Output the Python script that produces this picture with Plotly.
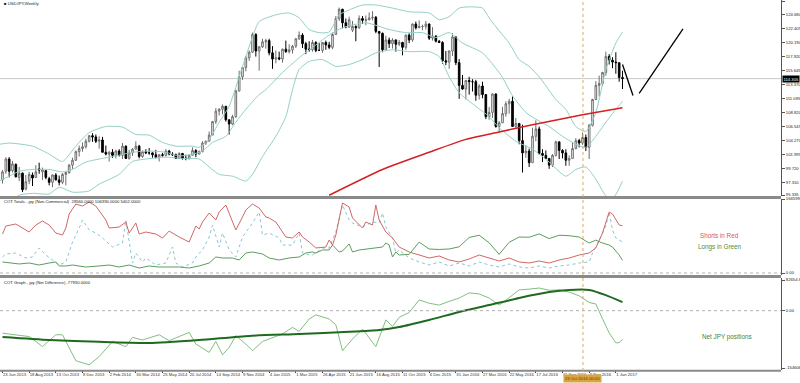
import plotly.graph_objects as go
from plotly.subplots import make_subplots
import pandas as pd

# ---------------- data ----------------
BASE = pd.Timestamp("2013-06-23")   # first weekly bar

def wdate(w):
    return BASE + pd.Timedelta(days=7 * w)

# weekly USDJPY candles (23 Jun 2013 ... 15 Jan 2017)
opens = [97.8, 99.2, 101.2, 99.3, 100.3, 98.2, 98.9, 96.3, 97.6, 98.6, 98.2, 99.6, 99.1, 99.3, 98.0, 97.4, 98.6, 97.8, 97.4, 98.7,
         99.0, 100.2, 101.0, 102.4, 102.9, 103.2, 104.1, 105.0,
         104.8, 104.1, 104.3, 102.3, 102.0, 102.3, 101.8, 102.5, 101.8, 103.3, 101.3, 102.2, 102.8, 103.3, 101.6, 102.4, 102.2, 102.2,
         101.9, 101.5, 101.9, 101.8, 102.5, 102.0, 101.9, 101.3, 102.1, 101.3, 101.3, 101.8, 102.6, 102.0, 102.4, 103.8, 104.1, 105.1,
         107.3, 109.0, 109.3, 109.8, 107.6, 106.9, 108.1, 112.3, 114.6, 116.1, 117.7, 118.6, 121.5, 118.8, 119.5, 120.3,
         120.5, 118.5, 117.5, 117.7, 117.5, 119.1, 118.7, 119.0, 119.6, 120.8, 121.4, 120.0, 119.1, 119.0, 120.2, 118.9, 118.9, 120.2,
         119.8, 119.4, 121.5, 124.1, 125.6, 123.4, 122.7, 122.2, 122.8, 122.6, 124.1, 123.8, 123.9, 124.2, 124.3, 122.0, 121.7, 119.0,
         120.6, 120.0, 120.6, 119.9, 120.2, 119.4, 121.4, 120.6, 123.2, 122.6, 122.8, 122.8, 123.2, 120.9, 121.2, 120.4,
         120.2, 117.2, 117.0, 118.8, 121.1, 116.9, 113.2, 112.6, 114.0, 113.8, 113.8, 111.6, 113.1, 111.7, 108.1, 108.8, 111.8, 106.5,
         107.1, 108.6, 110.2, 110.6, 106.5, 107.0, 104.2, 102.2, 102.5, 100.6, 104.9, 106.1, 102.1, 101.8, 101.3, 100.2, 101.8, 104.0,
         102.6, 102.2, 101.0, 101.3, 102.9, 104.2, 103.8, 104.7, 103.1, 106.7, 110.9, 113.2, 113.5, 115.3, 117.9, 117.3,
         117.0, 116.9, 114.5]
highs = [99.4, 101.5, 101.5, 100.9, 100.5, 99.9, 99.0, 98.6, 99.1, 99.0, 100.2, 100.6, 99.8, 99.4, 98.3, 98.7, 98.9, 98.5, 98.9, 99.1,
         100.4, 101.4, 102.6, 103.4, 103.9, 104.5, 105.1, 105.4,
         105.2, 104.9, 104.8, 103.4, 102.5, 102.8, 102.7, 102.8, 103.8, 103.4, 102.7, 103.0, 104.1, 103.5, 102.6, 102.8, 103.0, 102.3,
         102.7, 102.0, 102.2, 102.8, 102.7, 102.3, 102.1, 102.3, 102.2, 101.9, 101.9, 103.1, 102.8, 102.6, 104.1, 104.2, 105.7, 107.4,
         109.5, 109.5, 110.1, 109.8, 107.6, 108.4, 112.5, 115.6, 116.1, 118.0, 118.9, 121.8, 121.7, 119.6, 120.8, 120.8,
         120.8, 119.6, 118.9, 118.7, 119.2, 120.5, 119.9, 119.8, 120.9, 122.0, 121.7, 120.3, 120.4, 120.6, 120.4, 120.1, 119.9, 120.5,
         120.3, 121.8, 124.5, 125.9, 125.7, 124.1, 124.4, 123.7, 123.0, 124.6, 124.5, 124.6, 125.1, 125.3, 124.5, 122.0, 121.8, 121.3,
         121.0, 120.9, 120.7, 120.6, 120.3, 121.5, 121.7, 123.3, 123.6, 123.8, 123.1, 123.7, 123.3, 122.7, 121.4, 120.6,
         120.4, 118.8, 118.9, 121.7, 121.2, 117.5, 114.9, 114.0, 114.6, 114.2, 114.1, 113.4, 113.8, 111.8, 109.7, 111.9, 111.9, 107.4,
         109.7, 110.6, 111.0, 111.4, 107.9, 107.0, 106.8, 103.4, 102.9, 106.3, 107.5, 106.5, 102.8, 102.6, 101.3, 102.0, 104.2, 104.0,
         102.8, 102.8, 101.8, 104.0, 104.6, 104.5, 105.5, 105.2, 106.9, 111.0, 113.9, 114.8, 115.4, 118.7, 118.3, 117.8,
         118.6, 116.9, 115.6]
lows = [97.2, 98.8, 98.2, 99.0, 98.2, 97.6, 95.8, 96.1, 97.1, 96.8, 98.1, 98.8, 97.8, 97.9, 96.9, 96.6, 97.7, 96.9, 97.1, 96.9,
        98.8, 99.6, 100.9, 101.6, 102.4, 102.9, 103.9, 104.0,
        103.8, 102.9, 102.3, 101.8, 100.8, 101.4, 101.3, 101.6, 101.2, 101.2, 101.1, 101.7, 102.7, 101.3, 101.4, 102.0, 101.9, 101.4,
        101.3, 100.8, 101.6, 101.6, 101.8, 101.7, 101.2, 101.2, 101.1, 101.0, 101.1, 101.8, 101.5, 102.0, 102.3, 103.5, 104.1, 105.1,
        106.9, 108.3, 108.5, 107.3, 105.2, 106.7, 107.9, 112.2, 114.1, 115.5, 117.2, 118.5, 117.9, 115.6, 119.3, 119.2,
        118.1, 115.9, 116.8, 117.3, 116.9, 118.5, 118.4, 118.4, 119.3, 120.6, 119.3, 118.3, 118.7, 118.7, 118.6, 118.8, 118.5, 119.0,
        119.1, 119.1, 121.5, 123.7, 122.5, 122.5, 122.6, 121.9, 120.4, 122.4, 123.2, 123.0, 123.8, 123.8, 121.7, 116.2, 118.6, 119.0,
        119.3, 119.2, 118.7, 119.6, 118.1, 119.0, 120.1, 120.3, 122.3, 122.5, 122.2, 122.3, 120.6, 120.5, 120.2, 120.1,
        116.7, 116.5, 115.9, 118.0, 116.5, 111.0, 112.5, 110.9, 111.7, 112.2, 110.7, 110.9, 111.1, 107.7, 107.6, 107.9, 106.3, 105.5,
        107.1, 108.1, 108.6, 106.5, 106.3, 103.6, 99.0, 101.4, 99.9, 100.6, 104.1, 101.9, 100.7, 101.2, 99.6, 99.9, 101.6, 101.2,
        101.3, 100.1, 100.1, 101.2, 102.8, 103.1, 103.5, 102.5, 101.2, 106.5, 110.9, 111.4, 113.1, 114.8, 116.6, 116.0,
        115.1, 113.8, 112.6]
closes = [99.1, 101.2, 99.2, 100.4, 98.3, 98.9, 96.2, 97.5, 98.7, 98.1, 99.1, 99.4, 99.4, 98.2, 97.4, 98.6, 97.8, 97.4, 98.7, 99.0,
          100.2, 101.0, 102.4, 102.9, 103.2, 104.1, 105.0, 104.8,
          104.1, 104.3, 102.3, 102.0, 102.3, 101.8, 102.5, 101.8, 103.3, 101.3, 102.2, 102.8, 103.3, 101.6, 102.4, 102.2, 102.2, 101.9,
          101.5, 101.9, 101.8, 102.5, 102.0, 101.9, 101.3, 102.1, 101.3, 101.3, 101.8, 102.6, 102.0, 102.4, 103.8, 104.1, 105.1, 107.3,
          109.0, 109.3, 109.8, 107.6, 106.9, 108.1, 112.3, 114.6, 116.1, 117.7, 118.6, 121.5, 118.8, 119.5, 120.3, 120.5,
          118.5, 117.5, 117.7, 117.5, 119.1, 118.7, 119.0, 119.6, 120.8, 121.4, 120.0, 119.1, 119.0, 120.2, 118.9, 118.9, 120.2, 119.8,
          119.4, 121.5, 124.1, 125.6, 123.4, 122.7, 123.9, 122.8, 122.6, 124.1, 123.8, 123.9, 124.2, 124.3, 122.0, 121.7, 119.0, 120.6,
          120.0, 120.6, 119.9, 120.2, 119.4, 121.4, 120.6, 123.2, 122.6, 122.8, 122.8, 123.2, 120.9, 121.2, 120.4, 120.2,
          117.2, 117.0, 118.8, 121.1, 116.9, 113.2, 112.6, 114.0, 113.8, 113.8, 111.6, 113.1, 111.7, 108.1, 108.8, 111.8, 106.5, 107.1,
          108.6, 110.2, 110.6, 106.5, 107.0, 104.2, 102.2, 102.5, 100.6, 104.9, 106.1, 102.1, 101.8, 101.3, 100.2, 101.8, 104.0, 102.6,
          102.2, 101.0, 101.3, 102.9, 104.2, 103.8, 104.7, 103.1, 106.7, 110.9, 113.2, 113.5, 115.3, 117.9, 117.3, 117.0,
          116.9, 114.5, 114.3]

# Bollinger bands (week index, price)
bb_upper_w = [-1, 2, 9, 14, 18, 22, 26, 31, 36, 40, 44, 48, 52, 57, 59, 62, 65, 68, 71, 73, 75, 77, 82, 86, 89, 92, 95, 98, 101,
              104, 108, 112, 117, 122, 128, 131, 134, 137, 140, 144, 146, 149, 152, 155, 158, 161, 166, 169, 172, 175, 178, 181, 184, 186]
bb_upper = [103.6, 103.8, 103.3, 102.0, 100.8, 103.3, 105.5, 106.5, 106.4, 105.2, 105.1, 103.9, 103.3, 103.3, 103.1, 104.4, 107.2,
            109.8, 114.6, 117.9, 121.1, 123.6, 124.7, 125.0, 124.2, 122.3, 121.8, 121.9, 124.7, 125.5, 126.3, 126.3, 125.8, 125.2,
            125.0, 123.9, 124.4, 125.8, 126.0, 125.8, 124.2, 122.1, 120.1, 117.4, 116.3, 114.6, 110.9, 109.3, 106.5, 105.7, 108.8,
            115.8, 120.1, 121.9]
bb_mid_w = [-1, 2, 5, 9, 14, 18, 21, 25, 29, 34, 39, 44, 49, 53, 57, 60, 63, 67, 70, 73, 77, 79, 84, 89, 94, 98, 102, 109, 116,
            121, 126, 130, 134, 138, 144, 148, 150, 153, 157, 160, 164, 168, 172, 175, 178, 181, 184, 186]
bb_mid = [97.6, 98.4, 99.2, 99.5, 99.5, 99.1, 99.5, 100.7, 101.2, 101.7, 102.3, 102.5, 102.3, 101.7, 102.0, 102.5, 103.9, 104.9,
          107.2, 109.3, 111.7, 112.5, 115.3, 117.7, 119.8, 121.4, 122.6, 123.4, 122.3, 121.8, 121.8, 121.0, 121.8, 120.1, 118.5,
          116.0, 114.5, 111.5, 108.8, 107.7, 106.5, 104.9, 103.6, 103.1, 104.9, 107.2, 109.3, 110.6]
bb_low_w = [-1, 5, 9, 14, 17, 21, 26, 29, 35, 39, 43, 49, 54, 59, 62, 65, 69, 73, 75, 78, 82, 85, 87, 89, 92, 96, 100, 104, 108,
            112, 117, 122, 128, 131, 134, 137, 142, 146, 149, 154, 159, 164, 169, 172, 175, 178, 181, 183, 186]
bb_low = [92.5, 95.3, 95.6, 95.5, 96.6, 95.8, 96.0, 97.1, 98.7, 100.8, 101.2, 101.5, 101.3, 101.2, 99.9, 98.7, 98.4, 97.6, 98.7,
          101.6, 104.9, 108.1, 112.5, 115.8, 117.1, 117.4, 116.3, 116.6, 117.4, 118.5, 119.0, 118.7, 118.7, 117.9, 114.6, 112.0,
          109.8, 108.1, 106.3, 104.1, 102.8, 100.7, 98.4, 99.5, 99.9, 97.9, 95.2, 94.7, 97.6]

# long moving average (red)
ma_w = [98, 114, 128, 139, 149, 159, 174, 186]
ma = [95.3, 99.5, 102.3, 104.4, 105.6, 106.8, 108.4, 109.55]

# hand-drawn projection lines
draw1_dates = ["2017-01-15", "2017-02-06"]
draw1_prices = [116.6, 111.55]
draw2_dates = ["2017-02-19", "2017-05-22"]
draw2_prices = [111.9, 122.4]

current_price = 114.305
crosshair_date = "2016-10-24"

# COT totals (non-commercial)
red_w = [0, 1, 4, 6, 8, 10, 12, 14, 16, 18, 19, 20, 22, 24, 26, 28, 29, 31, 32, 34, 35, 37, 38, 40, 41, 43, 46, 48, 50, 53, 56,
         58, 59, 60, 62, 64, 65, 67, 68, 70, 72, 73, 75, 77, 79, 80, 82, 84, 85, 87, 89, 90, 92, 94, 97, 98, 99, 100, 102, 104,
         105, 108, 109, 111, 112, 113, 115, 117, 119, 122, 125, 128, 131, 134, 137, 140, 143, 146, 149, 152, 155, 158, 161, 164,
         167, 170, 173, 176, 178, 180, 182, 183, 185, 186]
shorts = [87800, 105800, 110300, 101300, 92300, 108000, 117100, 108000, 90000, 85500, 101300, 132800, 155300, 150800, 159800,
          150800, 139600, 119300, 101300, 103500, 103500, 114800, 90000, 112600, 87800, 92300, 87800, 78800, 94500, 81000, 69800,
          105800, 99000, 114800, 135100, 119300, 137300, 153100, 132800, 96800, 126100, 141800, 155300, 146300, 126100, 123800,
          114800, 92300, 81000, 78800, 92300, 81000, 69800, 56300, 58500, 74300, 63000, 85500, 157600, 148600, 123800, 101300,
          114800, 108000, 153100, 119300, 92300, 78800, 58500, 47300, 40500, 33800, 38300, 29300, 24800, 31500, 40500, 33800,
          27000, 33800, 24800, 22500, 27000, 22500, 29300, 33800, 40500, 45000, 56300, 90000, 137300, 132800, 108000, 106390]
green_w = [0, 2, 5, 8, 11, 14, 16, 17, 19, 21, 25, 29, 32, 35, 38, 41, 44, 47, 50, 53, 56, 59, 62, 64, 66, 69, 71, 73, 75, 78, 80,
           83, 86, 89, 91, 93, 94, 96, 98, 99, 101, 102, 104, 105, 107, 109, 112, 114, 115, 116, 117, 118, 119, 122, 125, 128, 131,
           134, 137, 140, 143, 146, 149, 152, 155, 158, 161, 164, 167, 170, 173, 176, 178, 180, 182, 183, 185, 186]
longs = [24800, 22500, 20300, 22500, 18000, 22500, 24800, 15800, 15800, 18000, 13500, 15800, 18000, 13500, 18000, 11300, 15800,
         13500, 13500, 13500, 11300, 15800, 22500, 36000, 33800, 33800, 29300, 45000, 47300, 42800, 33800, 29300, 33800, 36000,
         45000, 47300, 45000, 51800, 51800, 63000, 47300, 49500, 65300, 47300, 51800, 54000, 56300, 58500, 67500, 63000, 36000,
         47300, 40500, 42000, 69500, 54000, 53000, 54000, 59000, 80000, 85000, 68000, 42000, 69000, 81000, 80500, 88000, 77500,
         85000, 84000, 81000, 67500, 74000, 67500, 63000, 58500, 40500, 28560]
blue_w = [0, 1, 4, 7, 9, 11, 13, 15, 17, 19, 21, 23, 24, 26, 28, 30, 33, 36, 37, 39, 40, 42, 43, 46, 49, 51, 52, 54, 57, 58, 60,
          62, 63, 65, 66, 68, 70, 72, 75, 77, 78, 80, 83, 84, 87, 89, 90, 92, 93, 96, 98, 100, 102, 104, 105, 108, 111, 113, 114,
          115, 117, 118, 119, 122, 125, 128, 131, 134, 137, 140, 143, 146, 149, 152, 155, 158, 161, 164, 167, 170, 173, 176, 177,
          179, 181, 182, 183, 184, 186]
dotted = [36000, 42800, 45000, 33800, 36000, 56300, 40500, 29300, 18000, 24800, 69800, 101300, 119300, 96800, 90000, 78800,
          58500, 67500, 119300, 22500, 45000, 24800, 33800, 18000, 22500, 58500, 22500, 13500, 22500, 36000, 51800, 81000,
          108000, 58500, 90000, 51800, 36000, 81000, 112600, 137300, 85500, 90000, 78800, 63000, 63000, 90000, 45000, 40500,
          40500, 56300, 56300, 92300, 153100, 119300, 112600, 103500, 114800, 112600, 135100, 103500, 78800, 45000, 51800,
          33800, 24800, 18000, 24800, 15800, 22500, 15800, 24800, 18000, 13500, 20300, 13500, 11300, 15800, 11300, 15800,
          18000, 22500, 24800, 45000, 74300, 105800, 137300, 96800, 78800, 69800]

# COT net difference
net_w = [0, 8, 12, 16, 18, 22, 26, 29, 33, 37, 39, 42, 47, 50, 56, 58, 62, 64, 66, 68, 70, 73, 75, 78, 84, 87, 89, 92, 94, 98,
         100, 102, 105, 108, 112, 115, 117, 119, 122, 125, 128, 131, 134, 137, 140, 143, 146, 149, 152, 155, 158, 161, 164, 167,
         170, 173, 176, 178, 180, 182, 184, 185, 186]
net = [-60800, -69800, -96800, -65000, -65000, -135000, -146000, -124000, -83000, -97000, -72000, -79000, -65000, -81000, -58500,
       -90000, -112600, -83000, -119000, -99000, -67500, -90000, -108000, -83000, -63000, -45000, -56000, -22500, -11300, -22500,
       -38000, -108000, -76500, -49500, -97000, -24800, -42800, -18000, -5000, 29000, 20000, 15000, 25000, 34000, 48000, 45000,
       34000, 15000, 35000, 56000, 58000, 61000, 55000, 56000, 50000, 40000, 22000, 18000, -22000, -60000, -87000, -86000, -77930]
netma_w = [0, 14, 29, 44, 59, 74, 89, 104, 113, 119, 128, 137, 146, 155, 164, 170, 176, 181, 186]
netma = [-70900, -79000, -84000, -87000, -79000, -68000, -63000, -57000, -52000, -44000, -25000, -3500, 15000, 34000, 50000,
         56000, 56000, 42000, 23000]

# axis labels
price_ticks = [126.955, 124.680, 122.405, 120.190, 117.920, 115.645, 113.370, 111.095, 108.820, 106.545, 104.270, 101.995,
               99.720, 97.310, 95.335]
price_ticktext = ["126.955", "124.680", "122.405", "120.190", "117.920", "115.645", "113.370", "111.095", "108.820",
                  "106.545", "104.270", "101.995", "99.720", "97.310", "95.335"]
tick_dates = ["2013-06-23", "2013-08-18", "2013-10-13", "2013-12-08", "2014-02-02", "2014-03-30", "2014-05-25",
              "2014-07-20", "2014-09-14", "2014-11-09", "2015-01-04", "2015-03-01", "2015-04-26", "2015-06-21",
              "2015-08-16", "2015-10-11", "2015-12-06", "2016-01-31", "2016-03-27", "2016-05-22", "2016-07-17",
              "2016-09-11", "2016-11-06", "2017-01-01"]
tick_text = ["23 Jun 2013", "18 Aug 2013", "13 Oct 2013", "8 Dec 2013", "2 Feb 2014", "30 Mar 2014", "25 May 2014",
             "20 Jul 2014", "14 Sep 2014", "9 Nov 2014", "4 Jan 2015", "1 Mar 2015", "26 Apr 2015", "21 Jun 2015",
             "16 Aug 2015", "11 Oct 2015", "6 Dec 2015", "31 Jan 2016", "27 Mar 2016", "22 May 2016", "17 Jul 2016",
             "11 Sep 2016", "6 Nov 2016", "1 Jan 2017"]

# ---------------- figure ----------------
H_PLOT = 371.0
def py(px):
    return 1 - px / H_PLOT

FONT = "Liberation Sans"
SMALL = 4.2
BB_COL = "#93cfc8"

fig = make_subplots(rows=3, cols=1, shared_xaxes=True, vertical_spacing=0.01)

dates = [wdate(i) for i in range(len(closes))]
fig.add_trace(go.Candlestick(
    x=dates, open=opens, high=highs, low=lows, close=closes,
    increasing=dict(line=dict(color="#6e6e6e", width=1), fillcolor="#ffffff"),
    decreasing=dict(line=dict(color="#000000", width=1), fillcolor="#000000"),
    whiskerwidth=0, hoverinfo="skip"), row=1, col=1)

for ws, vals in [(bb_upper_w, bb_upper), (bb_mid_w, bb_mid), (bb_low_w, bb_low)]:
    fig.add_trace(go.Scatter(x=[wdate(w) for w in ws], y=vals, mode="lines",
                             line=dict(color=BB_COL, width=1, shape="spline", smoothing=0.6),
                             hoverinfo="skip"), row=1, col=1)
fig.add_trace(go.Scatter(x=[wdate(w) for w in ma_w], y=ma, mode="lines",
                         line=dict(color="#d42020", width=1.5, shape="spline", smoothing=0.6),
                         hoverinfo="skip"), row=1, col=1)
for dd, pp in [(draw1_dates, draw1_prices), (draw2_dates, draw2_prices)]:
    fig.add_trace(go.Scatter(x=dd, y=pp, mode="lines", line=dict(color="#000000", width=1.3),
                             hoverinfo="skip"), row=1, col=1)

# COT totals panel
fig.add_trace(go.Scatter(x=[wdate(w) for w in blue_w], y=dotted, mode="lines",
                         line=dict(color="#86c6d4", width=1, dash="dot"), hoverinfo="skip"), row=2, col=1)
fig.add_trace(go.Scatter(x=[wdate(w) for w in red_w], y=shorts, mode="lines",
                         line=dict(color="#d06868", width=1), hoverinfo="skip"), row=2, col=1)
fig.add_trace(go.Scatter(x=[wdate(w) for w in green_w], y=longs, mode="lines",
                         line=dict(color="#5e9c5e", width=1), hoverinfo="skip"), row=2, col=1)

# COT net panel
fig.add_trace(go.Scatter(x=[wdate(w) for w in net_w], y=net, mode="lines",
                         line=dict(color="#82bf82", width=1), hoverinfo="skip"), row=3, col=1)
fig.add_trace(go.Scatter(x=[wdate(w) for w in netma_w], y=netma, mode="lines",
                         line=dict(color="#1f6a1f", width=2, shape="spline", smoothing=0.6),
                         hoverinfo="skip"), row=3, col=1)

X_RANGE = ["2013-06-17 18:00", "2017-12-13 20:00"]
xbase = dict(type="date", range=X_RANGE, showgrid=False, zeroline=False, showline=False,
             ticks="", showticklabels=False, rangeslider=dict(visible=False), automargin=False)
ybase = dict(side="right", showgrid=False, zeroline=False, showline=True, linecolor="#555555", linewidth=1,
             ticks="outside", ticklen=3, tickcolor="#555555", automargin=False,
             tickfont=dict(family=FONT, size=SMALL, color="#222222"))

fig.update_layout(
    width=800, height=383, margin=dict(l=0, r=19, t=0, b=12),
    paper_bgcolor="white", plot_bgcolor="white", showlegend=False, hovermode=False,
    font=dict(family=FONT, size=SMALL, color="#222222"),
    boxgap=0.3,
    xaxis=dict(xbase),
    xaxis2=dict(xbase),
    xaxis3=dict(xbase, ticks="outside", ticklen=2, tickcolor="#444444", showticklabels=True,
                tickvals=tick_dates, ticktext=tick_text, ticklabelposition="outside right", tickangle=0,
                tickfont=dict(family=FONT, size=SMALL, color="#333333")),
    yaxis=dict(ybase, domain=[py(196), 1], range=[95.172, 127.118],
               tickvals=price_ticks, ticktext=price_ticktext),
    yaxis2=dict(ybase, domain=[py(275), py(199)], range=[-4502, 166599],
                tickvals=[166599, 0], ticktext=["166599.0", "0.00"]),
    yaxis3=dict(ybase, domain=[py(370), py(278)], range=[-159998, 88047],
                tickvals=[82654.6, 0, -154606.4], ticktext=["82654.6", "0.00", "-154606.4"]),
)

shapes = []
for pyv, wdt in [(197.5, 3), (276.5, 3), (370.8, 2)]:
    shapes.append(dict(type="line", xref="paper", yref="paper", x0=0, x1=1, y0=py(pyv), y1=py(pyv),
                       line=dict(color="#8a8a8a", width=wdt)))
shapes.append(dict(type="line", xref="paper", yref="y", x0=0, x1=1, y0=current_price, y1=current_price,
                   line=dict(color="#c8c8c8", width=1), layer="below"))
shapes.append(dict(type="line", xref="paper", yref="y2", x0=0, x1=1, y0=0, y1=0,
                   line=dict(color="#b0b0b0", width=1, dash="dot")))
shapes.append(dict(type="line", xref="paper", yref="y3", x0=0, x1=1, y0=0, y1=0,
                   line=dict(color="#b0b0b0", width=1, dash="dot")))
shapes.append(dict(type="line", xref="x", yref="paper", x0=crosshair_date, x1=crosshair_date, y0=0, y1=1,
                   line=dict(color="#d2a86a", width=1, dash="dot")))
fig.update_layout(shapes=shapes)

ann = [
    dict(text="■ USDJPY,Weekly", x=0.002, y=py(3), xref="paper", yref="paper", xanchor="left", yanchor="middle",
         showarrow=False, font=dict(family=FONT, size=SMALL, color="#222222")),
    dict(text="COT Totals - jpy (Non-Commercial)  28560.0000 106390.0000 5402.0000", x=0.003, y=py(201.5),
         xref="paper", yref="paper", xanchor="left", yanchor="middle", showarrow=False,
         font=dict(family=FONT, size=SMALL, color="#222222")),
    dict(text="COT Graph - jpy (Net Difference) -77930.0000", x=0.003, y=py(282),
         xref="paper", yref="paper", xanchor="left", yanchor="middle", showarrow=False,
         font=dict(family=FONT, size=SMALL, color="#222222")),
    dict(text="Shorts in Red", x=719.5 / 781, y=py(235), xref="paper", yref="paper", xanchor="center",
         yanchor="middle", showarrow=False, font=dict(family=FONT, size=6.3, color="#d9534f")),
    dict(text="Longs in Green", x=720 / 781, y=py(247), xref="paper", yref="paper", xanchor="center",
         yanchor="middle", showarrow=False, font=dict(family=FONT, size=6.3, color="#4e8a3e")),
    dict(text="Net JPY positions", x=726.5 / 781, y=py(337), xref="paper", yref="paper", xanchor="center",
         yanchor="middle", showarrow=False, font=dict(family=FONT, size=6.3, color="#3f7f3f")),
    dict(text="%.3f" % current_price, x=1, y=current_price, xref="paper", yref="y", xanchor="left",
         yanchor="middle", xshift=1, showarrow=False, bgcolor="#000000", borderpad=0.5,
         font=dict(family=FONT, size=SMALL, color="#ffffff")),
    dict(text="23 Oct 2016 00:00", x=crosshair_date, y=0, xref="x3", yref="paper", xanchor="center",
         yanchor="top", yshift=-3, showarrow=False, bgcolor="#d9a441", borderpad=1,
         font=dict(family=FONT, size=SMALL, color="#5c4306")),
]
fig.update_layout(annotations=ann)

fig.write_html("out.html", config={"displayModeBar": False},
               post_script="document.body.style.margin='0';document.body.style.padding='0';"
                           "document.documentElement.style.overflow='hidden';")
